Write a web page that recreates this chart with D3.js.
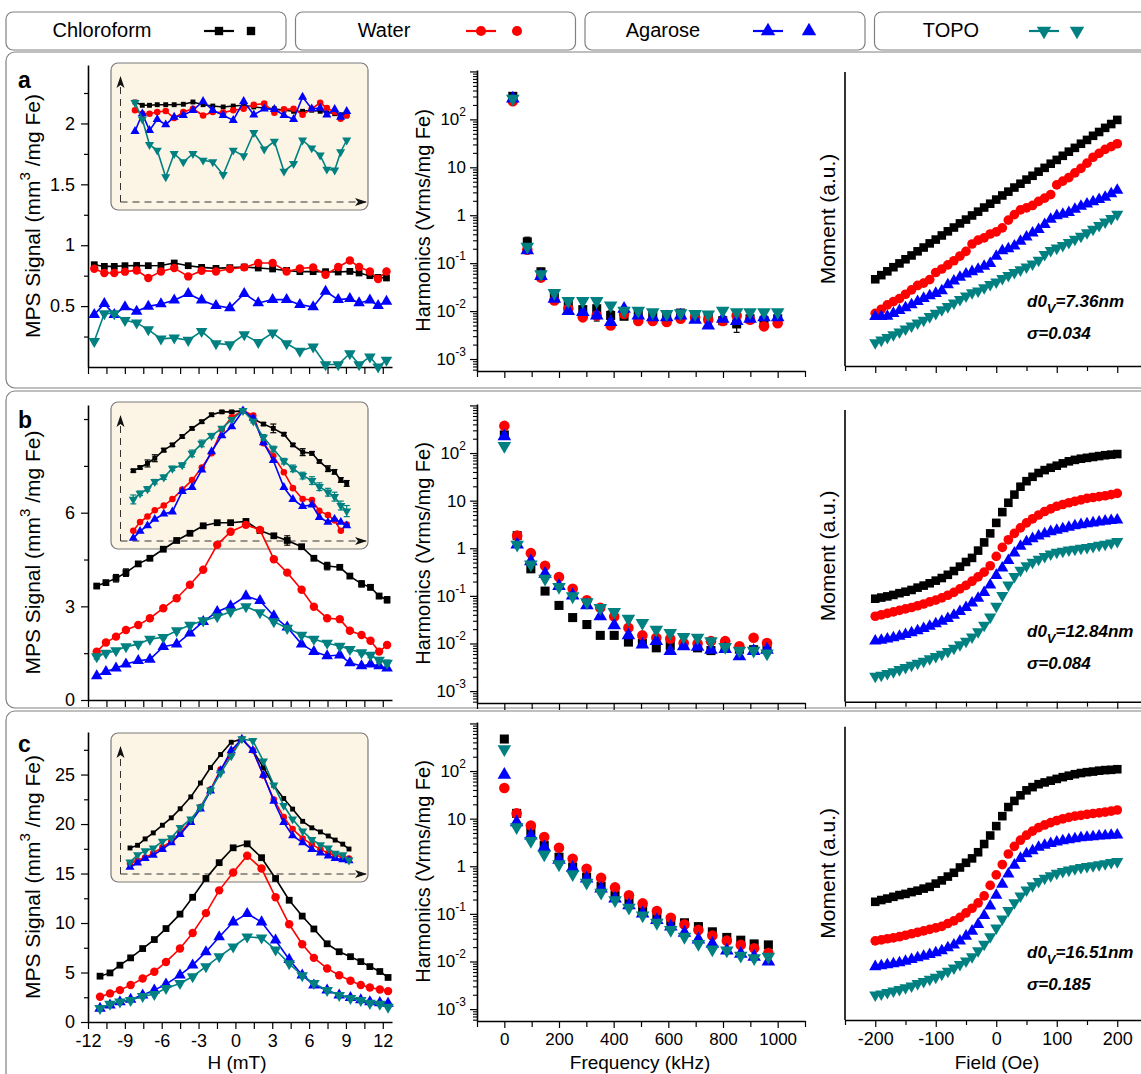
<!DOCTYPE html>
<html>
<head>
<meta charset="utf-8">
<script src="https://cdn.jsdelivr.net/npm/d3@7"></script>
<style>
  body { margin: 0; background: #fff; }
  svg { display: block; font-family: "Liberation Sans", Arial, Helvetica, sans-serif; }
</style>
</head>
<body>
<svg id="fig" width="1141" height="1074"></svg>
<script>
// ---------------- data ----------------
const seriesNames = ["Chloroform", "Water", "Agarose", "TOPO"];
const seriesColors = ["#000000", "#ff0000", "#0000ff", "#008080"];
const seriesSymbols = ["square", "circle", "triangle", "triangleDown"];
const panelLetters = ["a", "b", "c"];

// MPS point-spread functions: field H (mT) and signal (mm^3/mg Fe), order = seriesNames
const fieldA = [-11.49, -10.67, -9.86, -8.99, -8.04, -7.09, -6.06, -4.98, -3.84, -2.75, -1.58, -0.45, 0.72, 1.86, 3.03, 4.17, 5.25, 6.33, 7.34, 8.37, 9.32, 10.07, 10.95, 11.62, 12.3];
const mpsA = [
  [0.84, 0.826, 0.826, 0.832, 0.834, 0.832, 0.834, 0.854, 0.832, 0.818, 0.81, 0.816, 0.821, 0.813, 0.805, 0.793, 0.783, 0.783, 0.783, 0.78, 0.785, 0.772, 0.75, 0.736, 0.731],
  [0.807, 0.772, 0.772, 0.783, 0.793, 0.731, 0.785, 0.813, 0.744, 0.791, 0.785, 0.805, 0.818, 0.854, 0.854, 0.785, 0.809, 0.818, 0.758, 0.821, 0.875, 0.821, 0.785, 0.723, 0.785],
  [0.43, 0.52, 0.43, 0.493, 0.457, 0.498, 0.518, 0.548, 0.602, 0.548, 0.504, 0.485, 0.602, 0.526, 0.553, 0.553, 0.512, 0.493, 0.621, 0.553, 0.561, 0.526, 0.548, 0.504, 0.539],
  [0.211, 0.439, 0.439, 0.384, 0.362, 0.307, 0.231, 0.239, 0.22, 0.293, 0.193, 0.184, 0.266, 0.203, 0.28, 0.193, 0.13, 0.166, 0.02, 0.02, 0.111, 0.02, 0.084, 0.002, 0.056]
];
// relative signal shown in the inset of row a
const insetA = [
  [0.96, 0.938, 0.938, 0.942, 0.942, 0.942, 0.945, 0.96, 0.942, 0.933, 0.927, 0.933, 0.938, 0.927, 0.92, 0.915, 0.905, 0.898, 0.898, 0.905, 0.898, 0.893, 0.882, 0.875, 0.867],
  [0.905, 0.882, 0.882, 0.893, 0.9, 0.853, 0.893, 0.915, 0.87, 0.893, 0.889, 0.905, 0.915, 0.942, 0.949, 0.889, 0.911, 0.915, 0.875, 0.915, 0.955, 0.92, 0.893, 0.849, 0.871],
  [0.765, 0.882, 0.771, 0.845, 0.809, 0.86, 0.871, 0.905, 0.965, 0.905, 0.871, 0.838, 0.965, 0.875, 0.915, 0.911, 0.871, 0.845, 0.993, 0.915, 0.92, 0.875, 0.911, 0.86, 0.898],
  [0.955, 0.845, 0.675, 0.638, 0.46, 0.615, 0.56, 0.615, 0.571, 0.56, 0.475, 0.638, 0.6, 0.755, 0.645, 0.698, 0.498, 0.549, 0.705, 0.653, 0.605, 0.511, 0.505, 0.627, 0.705]
];

const fieldB = [-11.29, -10.54, -9.72, -8.91, -7.91, -6.96, -5.87, -4.78, -3.70, -2.62, -1.48, -0.39, 0.86, 2.0, 3.13, 4.22, 5.39, 6.39, 7.47, 8.50, 9.32, 10.27, 11.0, 11.70, 12.35];
const mpsB = [
  [3.65, 3.76, 3.90, 4.08, 4.36, 4.54, 4.83, 5.11, 5.34, 5.58, 5.68, 5.68, 5.72, 5.43, 5.26, 5.11, 4.91, 4.54, 4.29, 4.25, 3.97, 3.72, 3.61, 3.33, 3.21],
  [1.55, 1.84, 2.03, 2.24, 2.40, 2.62, 2.94, 3.26, 3.69, 4.17, 4.97, 5.39, 5.61, 5.45, 4.51, 4.08, 3.53, 2.99, 2.62, 2.59, 2.22, 2.08, 1.90, 1.55, 1.76],
  [0.77, 0.91, 1.02, 1.15, 1.26, 1.30, 1.71, 1.79, 2.14, 2.51, 2.83, 3.01, 3.33, 3.18, 2.69, 2.33, 1.79, 1.55, 1.41, 1.44, 1.19, 1.09, 1.15, 1.09, 1.02],
  [1.39, 1.50, 1.58, 1.71, 1.79, 1.95, 2.01, 2.22, 2.40, 2.54, 2.67, 2.83, 2.99, 2.80, 2.51, 2.30, 2.08, 1.95, 1.82, 1.73, 1.62, 1.52, 1.44, 1.28, 1.18]
];
// standard deviations of row b (Chloroform, TOPO)
const errB_Chloroform = [0.05, 0.05, 0.12, 0.12, 0.06, 0.05, 0.05, 0.05, 0.05, 0.05, 0.04, 0.04, 0.04, 0.05, 0.05, 0.15, 0.05, 0.05, 0.12, 0.06, 0.05, 0.10, 0.08, 0.08, 0.10];
const errB_TOPO = [0.08, 0.04, 0.04, 0.04, 0.04, 0.04, 0.04, 0.06, 0.06, 0.04, 0.03, 0.03, 0.03, 0.03, 0.05, 0.05, 0.05, 0.06, 0.06, 0.07, 0.07, 0.07, 0.08, 0.08, 0.10];

const fieldC = [-11.02, -10.21, -9.4, -8.53, -7.55, -6.6, -5.65, -4.51, -3.48, -2.4, -1.32, -0.18, 0.96, 2.13, 3.27, 4.38, 5.44, 6.39, 7.47, 8.45, 9.37, 10.21, 10.95, 11.76, 12.43];
const mpsC = [
  [4.63, 4.96, 5.74, 6.48, 7.42, 8.33, 9.44, 10.9, 12.6, 14.5, 16.1, 17.6, 18.0, 16.6, 14.5, 12.3, 10.7, 9.4, 7.9, 7.1, 6.6, 6.1, 5.6, 5.1, 4.5],
  [2.55, 2.89, 3.22, 3.73, 4.4, 5.07, 6.07, 7.42, 9.0, 11.0, 13.3, 15.1, 16.8, 15.5, 12.6, 9.87, 7.85, 6.48, 5.41, 4.73, 4.16, 3.73, 3.49, 3.29, 3.12],
  [1.38, 1.71, 2.04, 2.28, 2.72, 3.22, 3.83, 4.73, 5.74, 7.08, 8.59, 10.1, 10.95, 10.1, 8.26, 6.31, 4.73, 3.73, 3.22, 2.72, 2.45, 2.22, 2.04, 1.94, 1.88],
  [1.38, 1.81, 2.04, 2.2, 2.6, 2.8, 3.4, 3.9, 4.6, 5.6, 6.6, 7.6, 8.6, 8.5, 7.3, 5.9, 4.7, 3.9, 3.2, 2.7, 2.4, 2.2, 1.9, 1.8, 1.5]
];

// harmonic spectra: frequency (kHz) and amplitude (Vrms/mg Fe)
const freqA = [31, 84, 134, 183, 234, 287, 338, 389, 438, 490, 543, 594, 645, 698, 746, 799, 850, 899, 950, 1000];
const harmA = [
  [302, 0.278, 0.066, 0.0214, 0.0138, 0.0107, 0.0112, 0.0081, 0.0078, 0.0095, 0.0081, 0.0081, 0.0091, 0.0081, 0.0081, 0.0063, 0.0054, 0.0069, 0.0063, 0.0069],
  [240, 0.19, 0.050, 0.0166, 0.0112, 0.0074, 0.0081, 0.0050, 0.0087, 0.0062, 0.0062, 0.0059, 0.0069, 0.0074, 0.0066, 0.0062, 0.0081, 0.0066, 0.0048, 0.0056],
  [270, 0.186, 0.054, 0.018, 0.010, 0.0095, 0.0081, 0.0059, 0.0112, 0.0081, 0.0074, 0.0074, 0.0081, 0.0066, 0.0050, 0.0069, 0.0062, 0.0069, 0.0074, 0.0074],
  [270, 0.22, 0.059, 0.024, 0.0162, 0.0162, 0.0162, 0.0132, 0.0102, 0.0102, 0.0095, 0.0087, 0.0091, 0.0087, 0.0085, 0.0102, 0.0095, 0.0095, 0.0095, 0.0095]
];
// standard deviation of the Chloroform spectrum in row a
const errHarmA_Chloroform = [0, 0.07, 0.012, 0.004, 0.005, 0.002, 0.005, 0.002, 0.001, 0.001, 0.001, 0.001, 0.001, 0.001, 0.001, 0.001, 0.0018, 0.001, 0.001, 0.001];
const freqB = [0, 47, 97, 149, 200, 250, 302, 351, 402, 454, 505, 556, 607, 656, 707, 756, 808, 860, 912, 961];
const harmB = [
  [240, 1.84, 0.37, 0.126, 0.063, 0.035, 0.025, 0.0148, 0.0148, 0.0107, 0.010, 0.0081, 0.0091, 0.0091, 0.0081, 0.0071, 0.0087, 0.0076, 0.0074, 0.0087],
  [372, 1.84, 0.79, 0.43, 0.25, 0.141, 0.081, 0.056, 0.037, 0.0214, 0.0148, 0.0132, 0.0126, 0.0102, 0.010, 0.0112, 0.0112, 0.0087, 0.0132, 0.0102],
  [224, 1.19, 0.53, 0.29, 0.16, 0.102, 0.063, 0.037, 0.024, 0.0148, 0.0095, 0.0112, 0.0069, 0.0087, 0.0085, 0.0074, 0.0076, 0.0054, 0.0069, 0.0074],
  [141, 1.19, 0.46, 0.23, 0.155, 0.098, 0.074, 0.056, 0.046, 0.033, 0.027, 0.0195, 0.0166, 0.0138, 0.0132, 0.0112, 0.0085, 0.0071, 0.0071, 0.0062]
];
const freqC = [0, 45, 97, 146, 200, 250, 301, 354, 405, 456, 506, 558, 609, 659, 710, 761, 814, 865, 914, 966];
const harmC = [
  [470, 12.9, 5.6, 2.75, 1.55, 0.96, 0.59, 0.38, 0.245, 0.187, 0.123, 0.093, 0.071, 0.065, 0.054, 0.042, 0.032, 0.028, 0.0234, 0.0223],
  [44, 12.9, 7.2, 4.1, 2.45, 1.44, 0.89, 0.57, 0.36, 0.245, 0.166, 0.115, 0.083, 0.060, 0.046, 0.035, 0.0274, 0.0223, 0.019, 0.0151],
  [83, 8.4, 4.4, 2.5, 1.37, 0.93, 0.55, 0.34, 0.21, 0.151, 0.102, 0.074, 0.054, 0.040, 0.029, 0.0234, 0.017, 0.0145, 0.0126, 0.010],
  [288, 6.6, 3.4, 1.78, 1.1, 0.68, 0.45, 0.28, 0.195, 0.135, 0.093, 0.065, 0.046, 0.033, 0.0234, 0.018, 0.017, 0.0132, 0.0117, 0.0126]
];

// magnetization curves: field (Oe) and moment (a.u.)
const fieldM = [-200, -190, -180, -170, -160, -150, -140, -130, -120, -110, -100, -90, -80, -70, -60, -50, -40, -30, -20, -10, 0, 10, 20, 30, 40, 50, 60, 70, 80, 90, 100, 110, 120, 130, 140, 150, 160, 170, 180, 190, 200];
const momentA = [
  [29.5, 30.9, 32.2, 33.6, 34.9, 36.3, 37.6, 39.0, 40.3, 41.7, 43.0, 44.4, 45.8, 47.1, 48.5, 49.8, 51.2, 52.5, 53.9, 55.2, 56.6, 58.0, 59.3, 60.7, 62.0, 63.4, 64.7, 66.1, 67.4, 68.8, 70.1, 71.5, 72.9, 74.2, 75.6, 76.9, 78.3, 79.6, 81.0, 82.3, 83.7],
  [17.9, 19.3, 20.8, 21.9, 22.9, 24.4, 25.9, 27.4, 28.2, 29.4, 31.8, 33.0, 34.4, 35.8, 37.4, 39.0, 41.5, 42.8, 43.6, 44.9, 45.6, 47.0, 49.6, 51.5, 53.1, 53.8, 54.6, 56.0, 57.1, 58.3, 61.6, 62.9, 64.1, 65.7, 67.2, 69.0, 71.0, 72.3, 73.7, 74.6, 75.6],
  [16.8, 16.8, 16.9, 17.9, 18.9, 19.8, 20.8, 21.9, 23.0, 23.9, 24.7, 25.6, 27.6, 28.9, 30.2, 31.3, 32.1, 32.9, 33.9, 34.9, 37.3, 39.2, 39.9, 40.8, 42.4, 43.9, 45.2, 46.4, 48.1, 49.9, 51.1, 51.6, 52.2, 53.3, 54.3, 55.1, 55.9, 56.6, 57.4, 58.6, 59.8],
  [7.9, 8.8, 9.7, 10.6, 11.6, 12.6, 13.6, 14.6, 15.6, 16.8, 17.9, 19.1, 20.2, 21.4, 22.6, 23.8, 24.9, 25.5, 26.6, 27.7, 28.6, 29.8, 30.8, 31.8, 32.7, 33.7, 34.7, 36.0, 37.9, 39.3, 40.1, 41.0, 42.0, 43.1, 44.1, 45.3, 46.5, 47.8, 49.0, 50.2, 51.6]
];
const momentB = [
  [35.3, 35.7, 36.1, 36.6, 37.2, 37.7, 38.3, 39.1, 39.8, 40.6, 41.5, 42.4, 43.5, 44.8, 46.3, 47.9, 49.3, 51.8, 54.6, 57.7, 61.3, 65.0, 68.2, 71.0, 73.7, 75.6, 77.1, 78.4, 79.4, 80.2, 80.9, 81.7, 82.4, 82.9, 83.3, 83.6, 83.9, 84.2, 84.5, 84.7, 84.9],
  [29.3, 29.8, 30.3, 30.8, 31.3, 31.8, 32.3, 32.9, 33.5, 34.2, 34.8, 35.6, 36.5, 37.5, 38.7, 39.9, 41.3, 42.8, 44.4, 46.6, 49.8, 52.9, 55.5, 57.7, 59.6, 61.3, 62.7, 64.0, 65.2, 66.1, 67.0, 67.6, 68.2, 68.7, 69.2, 69.7, 70.0, 70.3, 70.6, 71.0, 71.4],
  [20.8, 21.1, 21.5, 21.9, 22.4, 23.0, 23.6, 24.3, 25.1, 25.9, 26.7, 27.6, 28.5, 29.6, 30.9, 32.3, 33.8, 35.5, 37.4, 40.0, 43.3, 45.8, 48.4, 51.0, 53.3, 54.8, 55.9, 56.8, 57.6, 58.3, 58.8, 59.3, 59.8, 60.3, 60.7, 61.0, 61.3, 61.6, 61.9, 62.1, 62.3],
  [8.7, 9.1, 9.7, 10.3, 11.0, 11.7, 12.5, 13.2, 13.9, 14.7, 15.5, 16.3, 17.2, 18.3, 19.5, 20.7, 22.2, 24.0, 26.2, 29.0, 32.7, 36.4, 40.0, 42.9, 45.1, 46.6, 47.8, 48.8, 49.8, 50.6, 51.2, 51.6, 52.0, 52.3, 52.6, 52.9, 53.2, 53.6, 54.0, 54.4, 54.9]
];
const momentC = [
  [40.3, 40.9, 41.4, 42.0, 42.6, 43.0, 43.6, 44.1, 44.8, 45.4, 46.5, 47.6, 48.9, 50.2, 52.0, 53.6, 55.1, 57.2, 60.0, 62.9, 66.1, 69.5, 72.6, 74.7, 76.6, 78.3, 79.4, 80.4, 81.0, 81.6, 82.2, 82.8, 83.3, 83.8, 84.2, 84.5, 84.7, 85.0, 85.2, 85.3, 85.5],
  [27.0, 27.3, 27.7, 28.0, 28.4, 28.9, 29.4, 29.9, 30.4, 30.9, 31.4, 31.9, 32.9, 33.8, 35.0, 36.5, 38.1, 39.9, 42.3, 45.9, 49.5, 53.0, 56.6, 59.2, 61.3, 63.0, 64.4, 65.6, 66.5, 67.3, 68.0, 68.6, 69.1, 69.5, 69.8, 70.1, 70.4, 70.6, 70.9, 71.2, 71.6],
  [18.2, 18.5, 18.8, 19.2, 19.5, 20.0, 20.6, 21.2, 21.7, 22.3, 22.9, 23.6, 24.6, 25.6, 26.9, 28.6, 30.3, 32.6, 35.6, 38.9, 42.5, 46.3, 49.8, 52.8, 55.1, 56.7, 57.7, 58.9, 59.6, 60.2, 60.7, 61.1, 61.5, 61.8, 62.1, 62.3, 62.5, 62.7, 62.8, 63.0, 63.1],
  [8.5, 8.9, 9.4, 9.9, 10.4, 11.0, 11.6, 12.4, 13.1, 13.9, 14.6, 15.6, 16.6, 17.7, 18.9, 20.1, 21.6, 23.6, 25.8, 28.4, 31.4, 34.4, 37.3, 40.0, 42.3, 44.3, 45.8, 47.2, 48.3, 49.2, 50.0, 50.6, 51.1, 51.6, 52.0, 52.3, 52.6, 52.9, 53.3, 53.7, 54.0]
];

// fitted size distribution of each row
const fitDiameter = ["7.36nm", "12.84nm", "16.51nm"];
const fitSigma = ["0.034", "0.084", "0.185"];

// axis ticks
const mpsTicks = [
  { domain: [0, 2.48], major: [0.5, 1, 1.5, 2], minor: [0.25, 0.75, 1.25, 1.75, 2.25] },
  { domain: [0, 9.45], major: [0, 3, 6], minor: [1.5, 4.5, 7.5, 9] },
  { domain: [0, 29.3], major: [0, 5, 10, 15, 20, 25], minor: [2.5, 7.5, 12.5, 17.5, 22.5, 27.5] }
];
const hTicks = [-12, -9, -6, -3, 0, 3, 6, 9, 12];
const hMinor = [-10.5, -7.5, -4.5, -1.5, 1.5, 4.5, 7.5, 10.5];
const freqTicks = [0, 200, 400, 600, 800, 1000];
const freqMinor = [-100, 100, 300, 500, 700, 900, 1100];
const logExponents = [-3, -2, -1, 0, 1, 2];
const oeTicks = [-200, -100, 0, 100, 200];
const oeMinor = [-250, -150, -50, 50, 150, 250];

// ---------------- layout ----------------
const rows = [
  { top: 52, h: 336, left: [367, 65], mid: [371, 70], right: [366, 72], inset: { x: 111, y: 63, w: 257, h: 147 }, insetY: [246, 96], insetX: [135, 346.7], letterY: 88, annY: 307 },
  { top: 391, h: 317, left: [700, 405], mid: [703, 404], right: [701.7, 410], inset: { x: 111, y: 402, w: 257, h: 147 }, insetY: [576.5, 410.7], insetX: [133.3, 346.7], letterY: 428, annY: 637 },
  { top: 711, h: 420, left: [1022, 732], mid: [1021, 722], right: [1020, 726.7], inset: { x: 111, y: 733, w: 257, h: 149 }, insetY: [885.7, 739], insetX: [130, 349], letterY: 752, annY: 958 }
];
const rowField = [fieldA, fieldB, fieldC];
const rowMps = [mpsA, mpsB, mpsC];
const rowErr = [null, [errB_Chloroform, null, null, errB_TOPO], null];
const rowFreq = [freqA, freqB, freqC];
const rowHarm = [harmA, harmB, harmC];
const rowHarmErr = [[errHarmA_Chloroform, null, null, null], null, null];
const rowMoment = [momentA, momentB, momentC];

const svg = d3.select("#fig");
const defs = svg.append("defs");
defs.append("marker").attr("id", "arrowHead").attr("viewBox", "0 0 12 10")
  .attr("refX", 11).attr("refY", 5).attr("markerWidth", 12).attr("markerHeight", 10)
  .attr("markerUnits", "userSpaceOnUse").attr("orient", "auto")
  .append("path").attr("d", "M0,1 L12,5 L0,9 L3,5 Z").attr("fill", "#111");

function symbolPath(kind, size) {
  const type = kind === "square" ? d3.symbolSquare : kind === "circle" ? d3.symbolCircle : d3.symbolTriangle;
  return d3.symbol().type(type).size(size)();
}
function symTransform(kind, x, y) {
  return `translate(${x},${y})` + (kind === "triangleDown" ? " rotate(180)" : "");
}
const sizeLeft = { square: 46, circle: 56, triangle: 58, triangleDown: 58 };
const sizeInset = { square: 24, circle: 34, triangle: 36, triangleDown: 36 };
const sizeMid = { square: 82, circle: 88, triangle: 80, triangleDown: 80 };
const sizeRight = { square: 74, circle: 74, triangle: 64, triangleDown: 64 };
const sizeLegend = { square: 70, circle: 80, triangle: 90, triangleDown: 90 };

function drawMarkers(g, pts, kind, sizes, color) {
  g.append("g").selectAll("path").data(pts).join("path")
    .attr("d", symbolPath(kind, sizes[kind]))
    .attr("transform", d => symTransform(kind, d[0], d[1]))
    .attr("fill", color);
}
// vertical error bars with caps; segs = [x, yLow, yHigh]
function drawErrorBars(g, segs, color) {
  const eg = g.append("g").attr("stroke", color).attr("stroke-width", 1.2);
  segs.forEach(([x, y0, y1]) => {
    eg.append("line").attr("x1", x).attr("x2", x).attr("y1", y0).attr("y2", y1);
    eg.append("line").attr("x1", x - 3).attr("x2", x + 3).attr("y1", y0).attr("y2", y0);
    eg.append("line").attr("x1", x - 3).attr("x2", x + 3).attr("y1", y1).attr("y2", y1);
  });
}

function styleAxis(g, width) {
  g.select(".domain").attr("stroke", "#000").attr("stroke-width", width || 1.6);
  g.selectAll(".tick line").attr("stroke", "#000").attr("stroke-width", 1.2);
  g.selectAll("text").attr("fill", "#000");
}

// ---------------- legend ----------------
const legendTextX = [102, 384, 663, 951];
const legendMarkX = [219, 481, 768, 1044];
const legendLoneX = [251, 517, 809, 1077];
seriesNames.forEach((name, i) => {
  const left = 6 + i * 289.5;
  svg.append("rect").attr("x", left).attr("y", 12).attr("width", 280).attr("height", 38)
    .attr("rx", 7).attr("fill", "#fff").attr("stroke", "#808080").attr("stroke-width", 1.2);
  svg.append("text").attr("x", legendTextX[i]).attr("y", 31).attr("dy", "0.3em")
    .attr("text-anchor", "middle").attr("font-size", 20).text(name);
  svg.append("line").attr("x1", legendMarkX[i] - 15).attr("x2", legendMarkX[i] + 15)
    .attr("y1", 31).attr("y2", 31).attr("stroke", seriesColors[i]).attr("stroke-width", 2.2);
  drawMarkers(svg, [[legendMarkX[i], 31]], seriesSymbols[i], sizeLegend, seriesColors[i]);
  drawMarkers(svg, [[legendLoneX[i], 31]], seriesSymbols[i], sizeLegend, seriesColors[i]);
});

// ---------------- rows ----------------
rows.forEach((row, r) => {
  const g = svg.append("g");
  const last = r === rows.length - 1;
  g.append("rect").attr("x", 6).attr("y", row.top).attr("width", 1170).attr("height", row.h)
    .attr("rx", 9).attr("fill", "none").attr("stroke", "#808080").attr("stroke-width", 1.2);
  g.append("text").attr("x", 18).attr("y", row.letterY).attr("font-size", 23)
    .attr("font-weight", "bold").text(panelLetters[r]);

  // ---- MPS signal vs field ----
  const xH = d3.scaleLinear().domain([-12, 12.75]).range([88, 392]);
  const yM = d3.scaleLinear().domain(mpsTicks[r].domain).range(row.left);
  const field = rowField[r];

  const axY = g.append("g").attr("transform", "translate(88,0)")
    .call(d3.axisLeft(yM).tickValues(mpsTicks[r].major).tickSize(7).tickSizeOuter(0).tickPadding(6).tickFormat(d3.format("~g")));
  axY.selectAll("text").attr("font-size", 18).attr("font-family", null);
  styleAxis(axY);
  g.append("g").attr("transform", "translate(88,0)")
    .call(d3.axisLeft(yM).tickValues(mpsTicks[r].minor).tickSize(4).tickFormat(""))
    .call(s => { s.select(".domain").remove(); s.selectAll("line").attr("stroke", "#000").attr("stroke-width", 1.2); });

  const axX = g.append("g").attr("transform", `translate(0,${row.left[0]})`)
    .call(d3.axisBottom(xH).tickValues(hTicks).tickSize(7).tickSizeOuter(0).tickPadding(5)
      .tickFormat(d => last ? String(d) : ""));
  axX.selectAll("text").attr("font-size", 18).attr("font-family", null);
  styleAxis(axX);
  g.append("g").attr("transform", `translate(0,${row.left[0]})`)
    .call(d3.axisBottom(xH).tickValues(hMinor).tickSize(7).tickFormat(""))
    .call(s => { s.select(".domain").remove(); s.selectAll("line").attr("stroke", "#000").attr("stroke-width", 1.2); });

  const yMid = (row.left[0] + row.left[1]) / 2;
  const tMps = g.append("text").attr("transform", `translate(33,${yMid}) rotate(-90)`)
    .attr("text-anchor", "middle").attr("dy", "0.35em").attr("font-size", 21);
  tMps.append("tspan").text("MPS Signal (mm");
  tMps.append("tspan").attr("dy", -10).attr("font-size", 15).text("3");
  tMps.append("tspan").attr("dy", 10).text(" /mg Fe)");

  // inset
  const ins = row.inset;
  g.append("rect").attr("x", ins.x).attr("y", ins.y).attr("width", ins.w).attr("height", ins.h)
    .attr("rx", 7).attr("fill", "#fcf5e6").attr("stroke", "#7a7a7a").attr("stroke-width", 1.2);
  const axisX0 = ins.x + 9.5, axisY0 = ins.y + ins.h - 8;
  g.append("line").attr("x1", axisX0).attr("y1", axisY0).attr("x2", axisX0).attr("y2", ins.y + 14)
    .attr("stroke", "#333").attr("stroke-width", 1).attr("stroke-dasharray", "7,5").attr("marker-end", "url(#arrowHead)");
  g.append("line").attr("x1", axisX0).attr("y1", axisY0).attr("x2", ins.x + ins.w - 2).attr("y2", axisY0)
    .attr("stroke", "#333").attr("stroke-width", 1).attr("stroke-dasharray", "7,5").attr("marker-end", "url(#arrowHead)");

  const xIn = d3.scaleLinear().domain(d3.extent(field)).range(row.insetX);
  const yIn = d3.scaleLinear().domain([0, 1]).range(row.insetY);
  seriesNames.forEach((_, s) => {
    const peak = d3.max(rowMps[r][s]);
    const vals = r === 0 ? insetA[s] : rowMps[r][s].map(v => v / peak);
    const pts = vals.map((v, i) => [xIn(field[i]), yIn(v)]);
    g.append("path").attr("d", d3.line()(pts)).attr("fill", "none")
      .attr("stroke", seriesColors[s]).attr("stroke-width", 1.6);
    const err = rowErr[r] && rowErr[r][s];
    if (err) drawErrorBars(g, vals.map((v, i) => [pts[i][0], yIn(v - err[i] / peak), yIn(v + err[i] / peak)]), seriesColors[s]);
    drawMarkers(g, pts, seriesSymbols[s], sizeInset, seriesColors[s]);
  });

  // main curves
  seriesNames.forEach((_, s) => {
    const vals = rowMps[r][s];
    const pts = vals.map((v, i) => [xH(field[i]), yM(v)]);
    g.append("path").attr("d", d3.line()(pts)).attr("fill", "none")
      .attr("stroke", seriesColors[s]).attr("stroke-width", 1.6);
    const err = rowErr[r] && rowErr[r][s];
    if (err) drawErrorBars(g, vals.map((v, i) => [pts[i][0], yM(v - err[i]), yM(v + err[i])]), seriesColors[s]);
    drawMarkers(g, pts, seriesSymbols[s], sizeLeft, seriesColors[s]);
  });

  // ---- harmonics spectrum ----
  const xF = d3.scaleLinear().domain([-100, 1100]).range([477, 805]);
  const yL = d3.scaleLog().domain([Math.pow(10, -3.25), Math.pow(10, 3.03)]).range(row.mid);
  const minorLog = [];
  for (let e = -4; e <= 3; e++) for (let k = 2; k <= 9; k++) {
    const v = k * Math.pow(10, e);
    if (v >= yL.domain()[0] && v <= yL.domain()[1]) minorLog.push(v);
  }
  const axL = g.append("g").attr("transform", "translate(477,0)")
    .call(d3.axisLeft(yL).tickValues([1e-3, 1e-2, 1e-1, 1, 10, 100, 1000]).tickSize(7).tickSizeOuter(0).tickFormat(""));
  styleAxis(axL);
  g.append("g").attr("transform", "translate(477,0)")
    .call(d3.axisLeft(yL).tickValues(minorLog).tickSize(4).tickFormat(""))
    .call(s => { s.select(".domain").remove(); s.selectAll("line").attr("stroke", "#000").attr("stroke-width", 1.1); });
  logExponents.forEach(e => {
    const t = g.append("text").attr("x", 466).attr("y", yL(Math.pow(10, e))).attr("dy", "0.35em")
      .attr("text-anchor", "end").attr("font-size", 17);
    if (e === 0) t.text("1");
    else if (e === 1) t.text("10");
    else {
      t.append("tspan").text("10");
      t.append("tspan").attr("dy", -9).attr("font-size", 12).text(String(e));
    }
  });
  const axF = g.append("g").attr("transform", `translate(0,${row.mid[0]})`)
    .call(d3.axisBottom(xF).tickValues(freqTicks).tickSize(7).tickSizeOuter(0).tickPadding(5)
      .tickFormat(d => last ? String(d) : ""));
  axF.selectAll("text").attr("font-size", 17).attr("font-family", null);
  styleAxis(axF);
  g.append("g").attr("transform", `translate(0,${row.mid[0]})`)
    .call(d3.axisBottom(xF).tickValues(freqMinor).tickSize(6).tickFormat(""))
    .call(s => { s.select(".domain").remove(); s.selectAll("line").attr("stroke", "#000").attr("stroke-width", 1.2); });
  g.append("text").attr("transform", `translate(423,${(row.mid[0] + row.mid[1]) / 2}) rotate(-90)`)
    .attr("text-anchor", "middle").attr("dy", "0.35em").attr("font-size", 20).text("Harmonics (Vrms/mg Fe)");

  seriesNames.forEach((_, s) => {
    const vals = rowHarm[r][s];
    const pts = vals.map((v, i) => [xF(rowFreq[r][i]), yL(v)]);
    const err = rowHarmErr[r] && rowHarmErr[r][s];
    if (err) drawErrorBars(g, vals.map((v, i) => [pts[i][0], yL(Math.max(v - err[i], 1e-4)), yL(v + err[i])]), seriesColors[s]);
    drawMarkers(g, pts, seriesSymbols[s], sizeMid, seriesColors[s]);
  });

  // ---- magnetization ----
  const xO = d3.scaleLinear().domain([-250, 250]).range([845, 1147.5]);
  const yO = d3.scaleLinear().domain([0, 100]).range(row.right);
  const axO = g.append("g").attr("transform", `translate(0,${row.right[0]})`)
    .call(d3.axisBottom(xO).tickValues(oeTicks).tickSize(7).tickSizeOuter(0).tickPadding(5)
      .tickFormat(d => last ? String(d) : ""));
  axO.selectAll("text").attr("font-size", 18).attr("font-family", null);
  styleAxis(axO);
  g.append("g").attr("transform", `translate(0,${row.right[0]})`)
    .call(d3.axisBottom(xO).tickValues(oeMinor).tickSize(5).tickFormat(""))
    .call(s => { s.select(".domain").remove(); s.selectAll("line").attr("stroke", "#000").attr("stroke-width", 1.2); });
  g.append("line").attr("x1", 845).attr("x2", 845).attr("y1", row.right[0]).attr("y2", row.right[1])
    .attr("stroke", "#000").attr("stroke-width", 1.6);
  g.append("text").attr("transform", `translate(828,${(row.right[0] + row.right[1]) / 2}) rotate(-90)`)
    .attr("text-anchor", "middle").attr("dy", "0.35em").attr("font-size", 21).text("Moment (a.u.)");

  seriesNames.forEach((_, s) => {
    const pts = rowMoment[r][s].map((v, i) => [xO(fieldM[i]), yO(v)]);
    drawMarkers(g, pts, seriesSymbols[s], sizeRight, seriesColors[s]);
  });

  const ann = g.append("text").attr("x", 1027).attr("y", row.annY)
    .attr("font-size", 17).attr("font-weight", "bold").attr("font-style", "italic");
  ann.append("tspan").text("d0");
  ann.append("tspan").attr("dy", 6).attr("font-size", 13).text("V");
  ann.append("tspan").attr("dy", -6).text("=" + fitDiameter[r]);
  g.append("text").attr("x", 1027).attr("y", row.annY + 32)
    .attr("font-size", 17).attr("font-weight", "bold").attr("font-style", "italic")
    .text("\u03c3=" + fitSigma[r]);
});

// bottom axis titles
svg.append("text").attr("x", 237).attr("y", 1069).attr("text-anchor", "middle").attr("font-size", 19).text("H (mT)");
svg.append("text").attr("x", 640).attr("y", 1069).attr("text-anchor", "middle").attr("font-size", 19).text("Frequency (kHz)");
svg.append("text").attr("x", 997).attr("y", 1069).attr("text-anchor", "middle").attr("font-size", 19).text("Field (Oe)");
</script>
</body>
</html>
